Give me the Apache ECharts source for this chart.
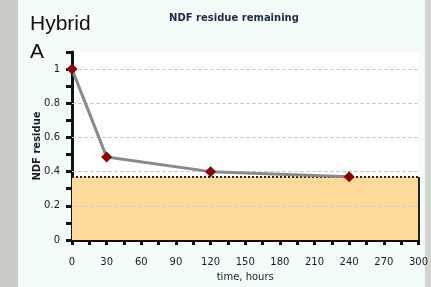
<!DOCTYPE html>
<html>
<head>
<meta charset="utf-8">
<script src="https://cdn.jsdelivr.net/npm/echarts@6/dist/echarts.min.js"></script>
<style>
  html, body { margin: 0; padding: 0; background: #f3fcf9; }
  #chart { width: 431px; height: 287px; }
</style>
</head>
<body>
<div id="chart"></div>
<script>
// measured points (time in hours, NDF residue fraction)
var hours = [0, 30, 120, 240];
var residue = [1.0, 0.485, 0.40, 0.37];
// level of the shaded undigested fraction
var residueFloor = [0.369];
var yGridValues = [0.2, 0.4, 0.6, 0.8, 1.0];

var chart = echarts.init(document.getElementById('chart'));

var points = [];
for (var i = 0; i < hours.length; i++) {
    points.push([hours[i], residue[i]]);
}

var gridLines = [];
for (var j = 0; j < yGridValues.length; j++) {
    gridLines.push({ yAxis: yGridValues[j] });
}

var option = {
    backgroundColor: '#f3fcf9',
    animation: false,
    graphic: [
        { type: 'rect', left: 0, top: 0, shape: { width: 18, height: 287 }, style: { fill: '#c9ccc6' }, z: -1 },
        { type: 'rect', right: 0, top: 0, shape: { width: 6, height: 287 }, style: { fill: '#d2d5cf' }, z: -1 },
        {
            type: 'text', left: 30, top: 10, z: 10,
            style: { text: 'Hybrid\nA', font: '21px "Liberation Sans"', fill: '#111', lineHeight: 28 }
        }
    ],
    title: {
        text: 'NDF residue remaining',
        left: 229,
        top: 8,
        textAlign: 'center',
        textStyle: { fontFamily: 'DejaVu Sans', fontSize: 10, fontWeight: 'bold', color: '#1c2a48' }
    },
    grid: {
        left: 72, right: 9, top: 52, bottom: 47,
        show: true, backgroundColor: '#ffffff', borderWidth: 0
    },
    xAxis: {
        type: 'value',
        min: 0, max: 300, interval: 15,
        name: 'time, hours',
        nameLocation: 'middle',
        nameGap: 32,
        nameMoveOverlap: false,
        nameTextStyle: { fontFamily: 'DejaVu Sans', fontSize: 10, color: '#1a1a2e' },
        axisLine: { lineStyle: { color: '#111', width: 3 } },
        axisTick: { length: 5, lineStyle: { color: '#111', width: 3 } },
        axisLabel: {
            margin: 17,
            fontFamily: 'DejaVu Sans', fontSize: 10, color: '#1a1a2e',
            formatter: function (v) { return v % 30 === 0 ? String(v) : ''; }
        },
        splitLine: { show: false }
    },
    yAxis: {
        type: 'value',
        min: 0, max: 1.1, interval: 0.1,
        name: 'NDF residue',
        nameLocation: 'middle',
        nameGap: 30,
        nameMoveOverlap: false,
        nameTextStyle: { fontFamily: 'DejaVu Sans', fontSize: 10, fontWeight: 'bold', color: '#1a1a2e' },
        axisLine: { show: true, lineStyle: { color: '#111', width: 3 } },
        axisTick: { show: true, length: 6, lineStyle: { color: '#111', width: 3 } },
        axisLabel: {
            margin: 12,
            fontFamily: 'DejaVu Sans', fontSize: 10, color: '#1a1a2e',
            formatter: function (v) {
                var t = Math.round(v * 10);
                if (t % 2 !== 0 || t > 10) return '';
                return String(t / 10);
            }
        },
        splitLine: { show: false }
    },
    series: [{
        type: 'line',
        data: points,
        symbol: 'diamond',
        symbolSize: 11,
        itemStyle: { color: '#8b0000' },
        lineStyle: { color: '#8a8a8a', width: 3 },
        z: 5,
        markArea: {
            silent: true,
            itemStyle: { color: '#fdd99a' },
            data: [[{ xAxis: 0, yAxis: 0 }, { xAxis: 300, yAxis: residueFloor[0] }]]
        },
        markLine: {
            silent: true,
            symbol: 'none',
            label: { show: false },
            data: gridLines.map(function (g) {
                return { yAxis: g.yAxis, lineStyle: { color: '#cccccc', type: 'dashed', width: 1 } };
            }).concat([
                { yAxis: residueFloor[0], lineStyle: { color: '#222', type: 'dotted', width: 2 } },
                [{ coord: [300, 0], lineStyle: { color: '#222', type: 'solid', width: 2 } },
                 { coord: [300, residueFloor[0]] }]
            ])
        }
    }]
};

chart.setOption(option);
</script>
</body>
</html>
